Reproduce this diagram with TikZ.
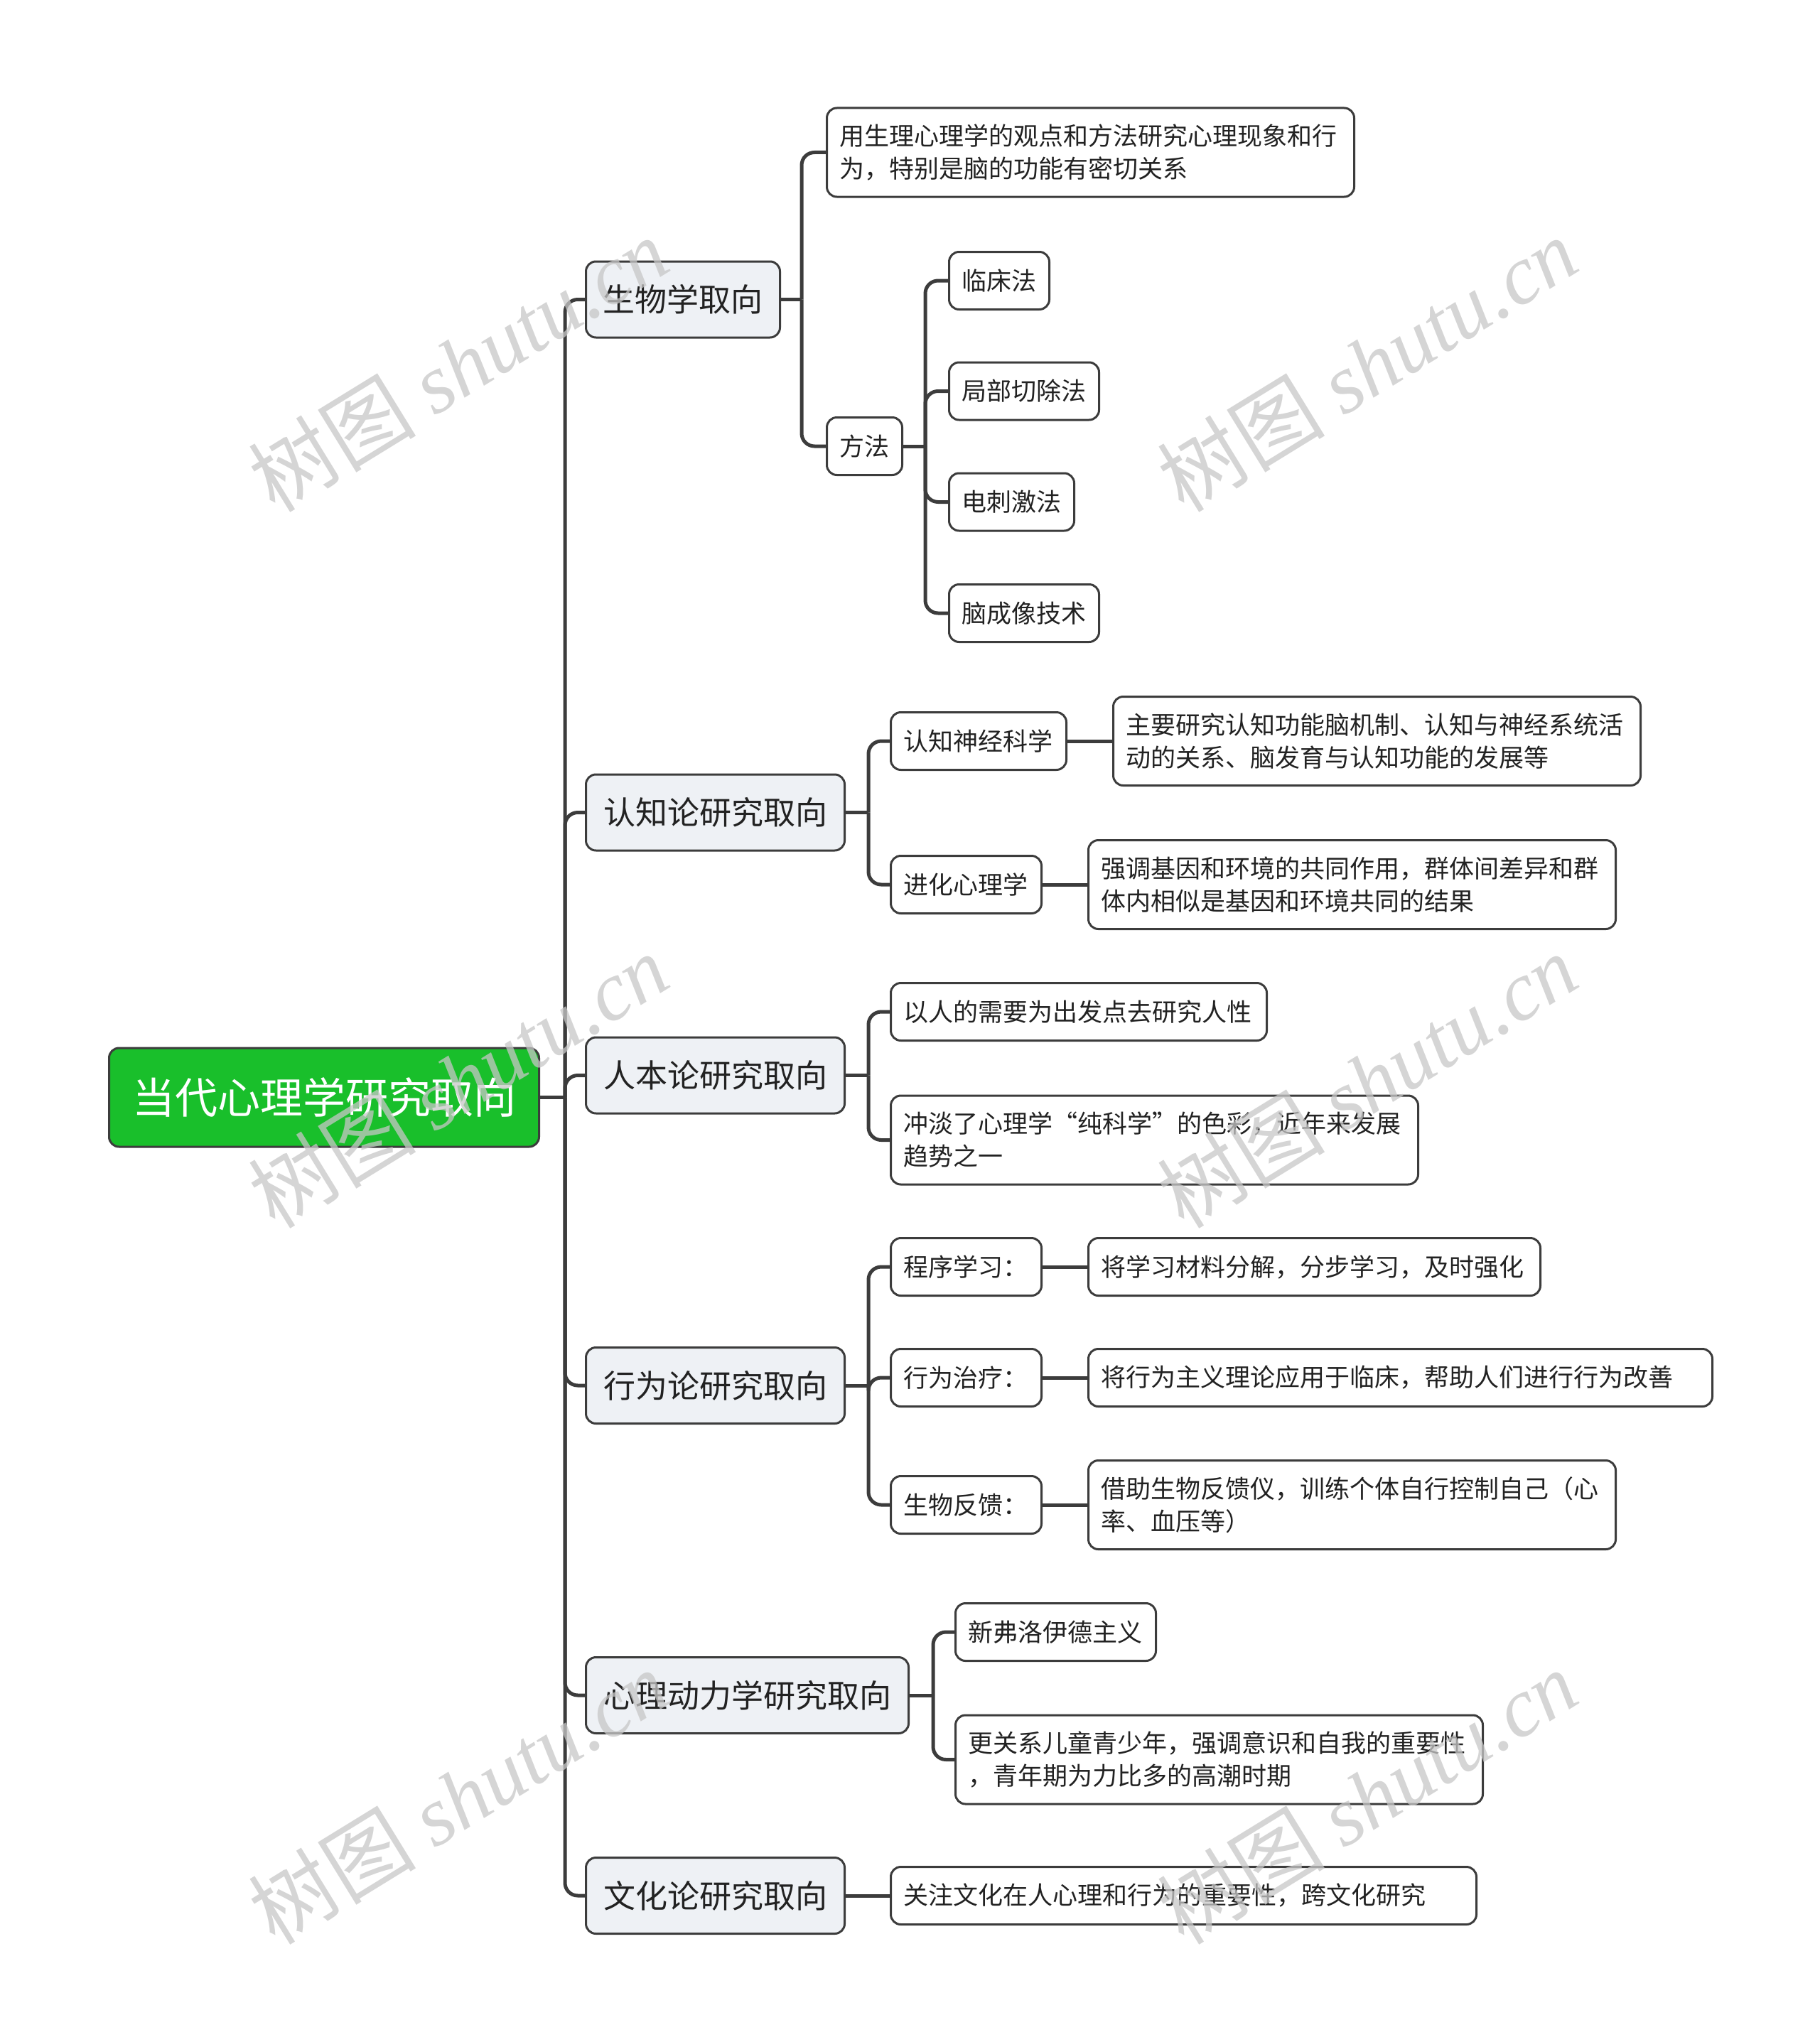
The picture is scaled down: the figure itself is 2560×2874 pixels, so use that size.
\documentclass[tikz,border=0pt]{standalone}
\usepackage{fontspec}
\setmainfont{Noto Sans CJK SC}
\newfontfamily\wmfont{Liberation Serif}
\definecolor{lc}{HTML}{3C3C3C}
\definecolor{tc}{HTML}{222222}
\definecolor{rootg}{HTML}{19BF2B}
\definecolor{mainf}{HTML}{EEF1F5}
\tikzset{
  box/.style={draw=lc, line width=3pt, rounded corners=14pt, text=tc, anchor=west, inner ysep=6pt},
  rootbox/.style={box, fill=rootg, text=white, font=\fontsize{60}{70}\selectfont, minimum height=139pt, minimum width=605pt, inner xsep=32pt},
  mainbox/.style={box, fill=mainf, font=\fontsize{45}{54}\selectfont, minimum height=107pt, inner xsep=24pt},
  leafbox/.style={box, fill=white, font=\fontsize{35}{46}\selectfont, minimum height=81pt, inner xsep=18pt, align=left},
  conn/.style={draw=lc, line width=5pt, rounded corners=18pt},
  wm/.style={text=black!22, opacity=0.75, rotate=31.6, font=\fontsize{118}{130}\selectfont}
}
\begin{document}
\begin{tikzpicture}[x=1pt,y=-1pt]
\useasboundingbox (0,0) rectangle (2560,2874);
% root
\node[rootbox] (root) at (152,1544.5) {当代心理学研究取向};
% level 1
\node[mainbox, minimum width=273pt] (m1) at (823,421.5) {生物学取向};
\node[mainbox, minimum width=364pt] (m2) at (823,1143.5) {认知论研究取向};
\node[mainbox, minimum width=364pt] (m3) at (823,1513.5) {人本论研究取向};
\node[mainbox, minimum width=364pt] (m4) at (823,1950) {行为论研究取向};
\node[mainbox, minimum width=454pt] (m5) at (823,2386) {心理动力学研究取向};
\node[mainbox, minimum width=364pt] (m6) at (823,2668) {文化论研究取向};
% biology
\node[leafbox, text width=706pt, minimum height=125pt] (a1) at (1162,214.5) {用生理心理学的观点和方法研究心理现象和行\\为，特别是脑的功能有密切关系};
\node[leafbox, text width=70pt] (a2) at (1162,628) {方法};
\node[leafbox, text width=105pt] (a21) at (1334,395) {临床法};
\node[leafbox, text width=175pt] (a22) at (1334,550.5) {局部切除法};
\node[leafbox, text width=140pt] (a23) at (1334,706.5) {电刺激法};
\node[leafbox, text width=175pt] (a24) at (1334,863) {脑成像技术};
% cognitive
\node[leafbox, text width=211pt] (c1) at (1252,1043) {认知神经科学};
\node[leafbox, text width=706pt, minimum height=125pt] (c1x) at (1565,1043) {主要研究认知功能脑机制、认知与神经系统活\\动的关系、脑发育与认知功能的发展等};
\node[leafbox, text width=176pt] (c2) at (1252,1245) {进化心理学};
\node[leafbox, text width=706pt, minimum height=125pt] (c2x) at (1530,1245) {强调基因和环境的共同作用，群体间差异和群\\体内相似是基因和环境共同的结果};
% humanistic
\node[leafbox, text width=493pt] (h1) at (1252,1424) {以人的需要为出发点去研究人性};
\node[leafbox, text width=706pt, minimum height=125pt] (h2) at (1252,1604.5) {冲淡了心理学“纯科学”的色彩，近年来发展\\趋势之一};
% behaviour
\node[leafbox, text width=176pt] (d1) at (1252,1783) {程序学习：};
\node[leafbox, text width=600pt] (d1x) at (1530,1783) {将学习材料分解，分步学习，及时强化};
\node[leafbox, text width=176pt] (d2) at (1252,1939) {行为治疗：};
\node[leafbox, text width=842pt] (d2x) at (1530,1939) {将行为主义理论应用于临床，帮助人们进行行为改善};
\node[leafbox, text width=176pt] (d3) at (1252,2118) {生物反馈：};
\node[leafbox, text width=706pt, minimum height=125pt] (d3x) at (1530,2118) {借助生物反馈仪，训练个体自行控制自己（心\\率、血压等）};
% psychodynamic
\node[leafbox, text width=246pt] (e1) at (1343,2297) {新弗洛伊德主义};
\node[leafbox, text width=706pt, minimum height=125pt] (e2) at (1343,2476.5) {更关系儿童青少年，强调意识和自我的重要性\\，青年期为力比多的高潮时期};
% culture
\node[leafbox, text width=788pt] (f1) at (1252,2668) {关注文化在人心理和行为的重要性，跨文化研究};
% connectors
\draw[conn] (root.east) -- ++(35,0) coordinate (j0);
\foreach \c in {m1,m2,m3,m4,m5,m6} \draw[conn] (j0) |- (\c.west);
\draw[conn] (m1.east) -- ++(29,0) coordinate (j1);
\foreach \c in {a1,a2} \draw[conn] (j1) |- (\c.west);
\draw[conn] (a2.east) -- ++(31,0) coordinate (j2);
\foreach \c in {a21,a22,a23,a24} \draw[conn] (j2) |- (\c.west);
\draw[conn] (m2.east) -- ++(32,0) coordinate (j3);
\foreach \c in {c1,c2} \draw[conn] (j3) |- (\c.west);
\draw[conn] (c1.east) -- (c1x.west);
\draw[conn] (c2.east) -- (c2x.west);
\draw[conn] (m3.east) -- ++(32,0) coordinate (j4);
\foreach \c in {h1,h2} \draw[conn] (j4) |- (\c.west);
\draw[conn] (m4.east) -- ++(32,0) coordinate (j5);
\foreach \c in {d1,d2,d3} \draw[conn] (j5) |- (\c.west);
\draw[conn] (d1.east) -- (d1x.west);
\draw[conn] (d2.east) -- (d2x.west);
\draw[conn] (d3.east) -- (d3x.west);
\draw[conn] (m5.east) -- ++(33,0) coordinate (j6);
\foreach \c in {e1,e2} \draw[conn] (j6) |- (\c.west);
\draw[conn] (m6.east) -- (f1.west);
% watermarks
\foreach \wx/\wy [count=\i] in {645/513, 1924/513, 645/1521, 1924/1521, 645/2529, 1924/2529}
  \node[wm] (w\i) at (\wx,\wy) {树图 {\wmfont\itshape shutu.cn}};
\end{tikzpicture}
\end{document}
